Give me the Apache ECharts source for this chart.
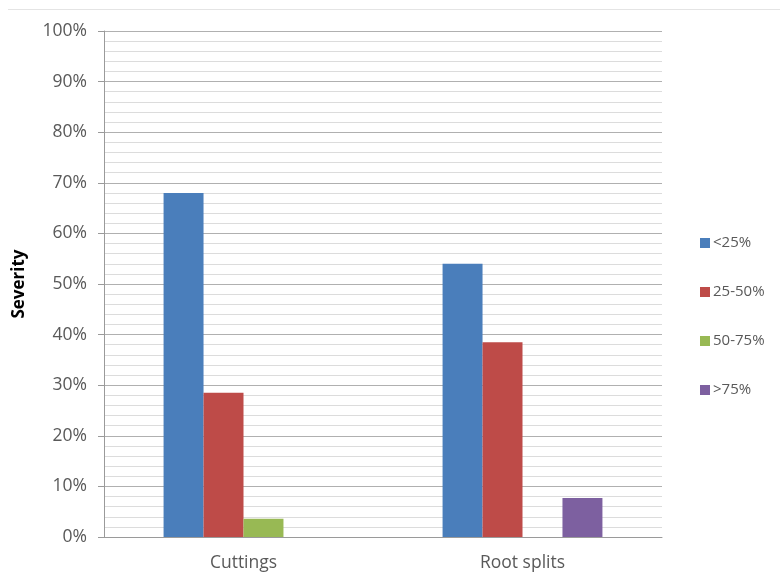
<!DOCTYPE html>
<html>
<head>
<meta charset="utf-8">
<script src="https://cdn.jsdelivr.net/npm/echarts@6/dist/echarts.min.js"></script>
<style>
  html, body { margin: 0; padding: 0; background: #fff; }
  #chart { width: 780px; height: 574px; }
</style>
</head>
<body>
<div id="chart"></div>
<script>
// Categories and severity shares (percent of samples)
const categories = ['Cuttings', 'Root splits'];
const seriesNames = ['<25%', '25-50%', '50-75%', '>75%'];
const under25 = [68, 54];
const from25to50 = [28.5, 38.5];
const from50to75 = [3.6, null];
const over75 = [null, 7.7];
const yTicks = [0, 10, 20, 30, 40, 50, 60, 70, 80, 90, 100];

const colors = ['#4A7EBB', '#BE4B48', '#98B954', '#7D60A0'];
const textColor = '#595959';
const fontFamily = '"Open Sans", "Liberation Sans", sans-serif';

const chart = echarts.init(document.getElementById('chart'));

const values = [under25, from25to50, from50to75, over75];

chart.setOption({
  animation: false,
  color: colors,
  textStyle: { fontFamily: fontFamily },
  grid: { left: 104, right: 118, top: 31, bottom: 37, containLabel: false },
  graphic: [{
    type: 'line',
    shape: { x1: 8, y1: 9.5, x2: 780, y2: 9.5 },
    style: { stroke: '#e4e4e4', lineWidth: 1 }
  }],
  legend: {
    orient: 'vertical',
    left: 695,
    top: 229,
    itemWidth: 10,
    itemHeight: 10,
    itemGap: 31,
    icon: 'rect',
    data: seriesNames,
    textStyle: { color: textColor, fontSize: 15, fontFamily: fontFamily, lineHeight: 18, padding: [0, 0, 0, -2] }
  },
  xAxis: {
    type: 'category',
    data: categories,
    axisLine: { show: true, lineStyle: { color: '#9a9a9a', width: 1 } },
    axisTick: { show: false },
    axisLabel: { color: textColor, fontSize: 17.5, margin: 17, fontFamily: fontFamily },
    splitLine: { show: false }
  },
  yAxis: {
    type: 'value',
    min: yTicks[0],
    max: yTicks[yTicks.length - 1],
    interval: 10,
    name: 'Severity',
    nameLocation: 'middle',
    nameGap: 76,
    nameRotate: 90,
    nameTextStyle: { color: '#000', fontSize: 17, fontWeight: 'bold', fontFamily: fontFamily },
    axisLine: { show: true, lineStyle: { color: '#9a9a9a', width: 1 } },
    axisTick: { show: true, length: 6, lineStyle: { color: '#9a9a9a' } },
    axisLabel: {
      color: textColor, fontSize: 17.5, margin: 17, fontFamily: fontFamily,
      formatter: function (v) { return v + '%'; }
    },
    splitLine: { show: true, lineStyle: { color: '#b0b0b0', width: 1 } },
    minorTick: { show: false, splitNumber: 5 },
    minorSplitLine: { show: true, lineStyle: { color: '#dcdcdc', width: 1 } }
  },
  series: seriesNames.map(function (name, i) {
    return {
      name: name,
      type: 'bar',
      data: values[i],
      barGap: '0%',
      barCategoryGap: '42.7%',
      itemStyle: { color: colors[i] }
    };
  })
});
</script>
</body>
</html>
